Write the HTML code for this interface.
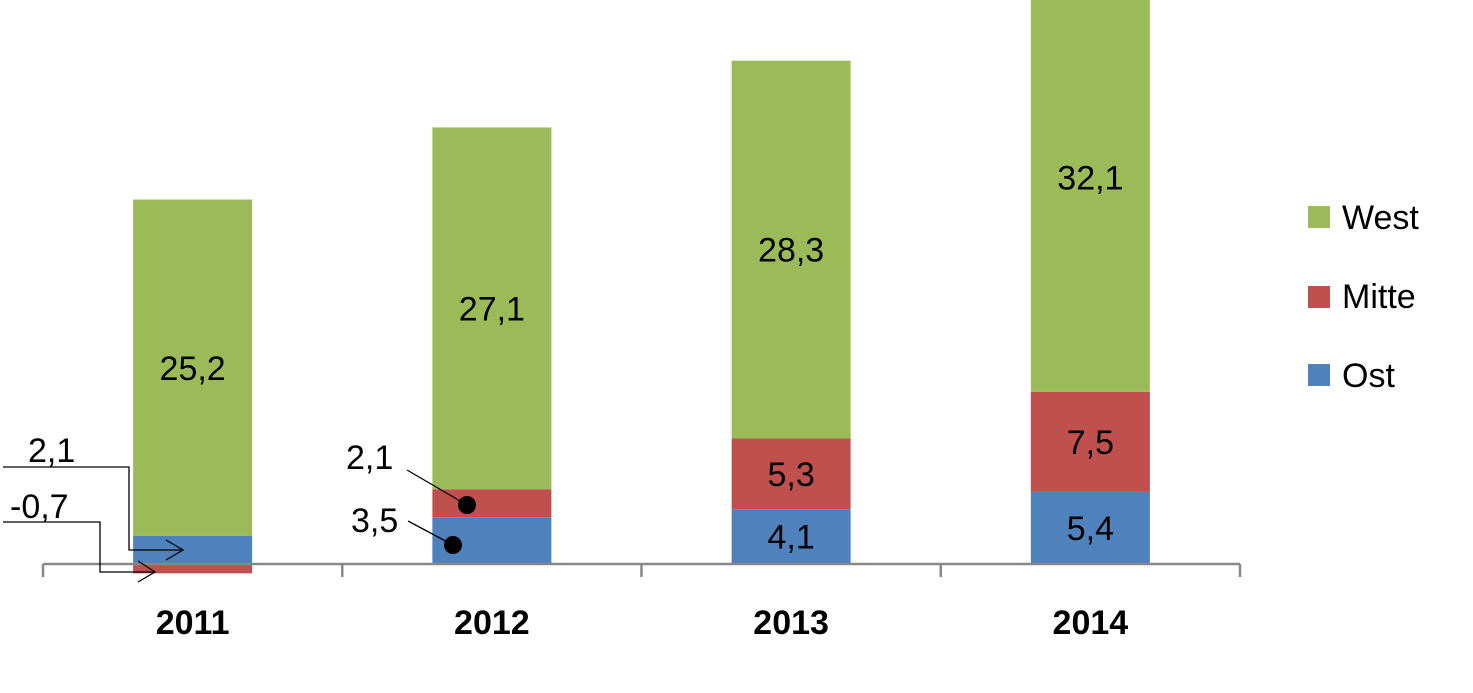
<!DOCTYPE html>
<html><head><meta charset="utf-8"><style>
html,body{margin:0;padding:0;background:#fff;}
svg{display:block;font-family:"Liberation Sans",sans-serif;}
</style></head><body>
<svg id="chart" width="1473" height="693" viewBox="0 0 1473 693" xmlns="http://www.w3.org/2000/svg">
<g id="bars"></g>
<g id="labels"></g>
<g id="axis"></g>
<g id="annot">
  <polyline points="3,467 129,467 129,550 183,550" fill="none" stroke="#000" stroke-width="1.3"/>
  <polyline points="166,540 183,550 166,560" fill="none" stroke="#000" stroke-width="1.3"/>
  <polyline points="3,522 100,522 100,572 155,572" fill="none" stroke="#000" stroke-width="1.3"/>
  <polyline points="138,561 155,572 138,582" fill="none" stroke="#000" stroke-width="1.3"/>
  <text x="28" y="462" font-size="34">2,1</text>
  <text x="10" y="518" font-size="34">-0,7</text>
  <line x1="407" y1="470" x2="467" y2="505" stroke="#000" stroke-width="1.3"/>
  <circle cx="467" cy="505" r="9" fill="#000"/>
  <line x1="408" y1="521" x2="453" y2="545" stroke="#000" stroke-width="1.3"/>
  <circle cx="453" cy="545" r="9" fill="#000"/>
  <text x="346" y="469" font-size="34">2,1</text>
  <text x="351" y="532" font-size="34">3,5</text>
</g>
<g id="legend">
  <g><rect x="1308" y="206" width="22" height="22" fill="#9BBB59"/><text x="1342" y="229" font-size="34">West</text></g>
  <g><rect x="1308" y="286" width="22" height="22" fill="#C0504D"/><text x="1342" y="308" font-size="34">Mitte</text></g>
  <g><rect x="1308" y="364" width="22" height="22" fill="#4F81BD"/><text x="1342" y="387" font-size="34">Ost</text></g>
</g>
</svg>
<script>
const categories = ["2011","2012","2013","2014"];
const ost = [2.1, 3.5, 4.1, 5.4];
const mitte = [-0.7, 2.1, 5.3, 7.5];
const west = [25.2, 27.1, 28.3, 32.1];
const showLabel = [false, false, true, true];

const NS = "http://www.w3.org/2000/svg";
const baseY = 564, pxPerUnit = 13.35;
const x0 = 43, x1 = 1240, barW = 119;
const step = (x1 - x0) / categories.length;
const yS = v => baseY - v * pxPerUnit;
const xC = i => x0 + step * (i + 0.5);
const bars = document.getElementById('bars');
const labels = document.getElementById('labels');
const axis = document.getElementById('axis');
function mk(tag, attrs){const e=document.createElementNS(NS,tag);for(const k in attrs)e.setAttribute(k,attrs[k]);return e;}

categories.forEach((c, i) => {
  const cx = xC(i), bx = cx - barW/2;
  let pos = 0, neg = 0;
  const series = [["ost", ost[i], "#4F81BD"], ["mitte", mitte[i], "#C0504D"], ["west", west[i], "#9BBB59"]];
  series.forEach(([name, v, col]) => {
    let a, b;
    if (v >= 0) { a = pos; b = pos + v; pos = b; } else { a = neg; b = neg + v; neg = b; }
    const yTop = yS(Math.max(a, b)), yBot = yS(Math.min(a, b));
    const r = mk('rect', {x: bx, y: yTop, width: barW, height: yBot - yTop, fill: col});
    
    
    bars.appendChild(r);
    if (name === "west" || showLabel[i]) {
      const t = mk('text', {x: cx, y: (yTop + yBot)/2 + 12, 'text-anchor': 'middle', 'font-size': 34});
      t.textContent = String(v).replace('.', ',');
      
      
      labels.appendChild(t);
    }
  });
  const yl = mk('text', {x: cx, y: 634, 'text-anchor': 'middle', 'font-size': 34, 'font-weight': 'bold'});
  yl.textContent = c;
  
  
  axis.appendChild(yl);
});
const al = mk('line', {x1: x0, y1: baseY, x2: x1, y2: baseY, stroke: '#888', 'stroke-width': 2.5});


axis.appendChild(al);
for (let i = 0; i <= categories.length; i++) {
  const tx = x0 + step * i;
  const tk = mk('line', {x1: tx, y1: baseY, x2: tx, y2: 577, stroke: '#888', 'stroke-width': 2.5});
  
  
  axis.appendChild(tk);
}
</script>
</body></html>
